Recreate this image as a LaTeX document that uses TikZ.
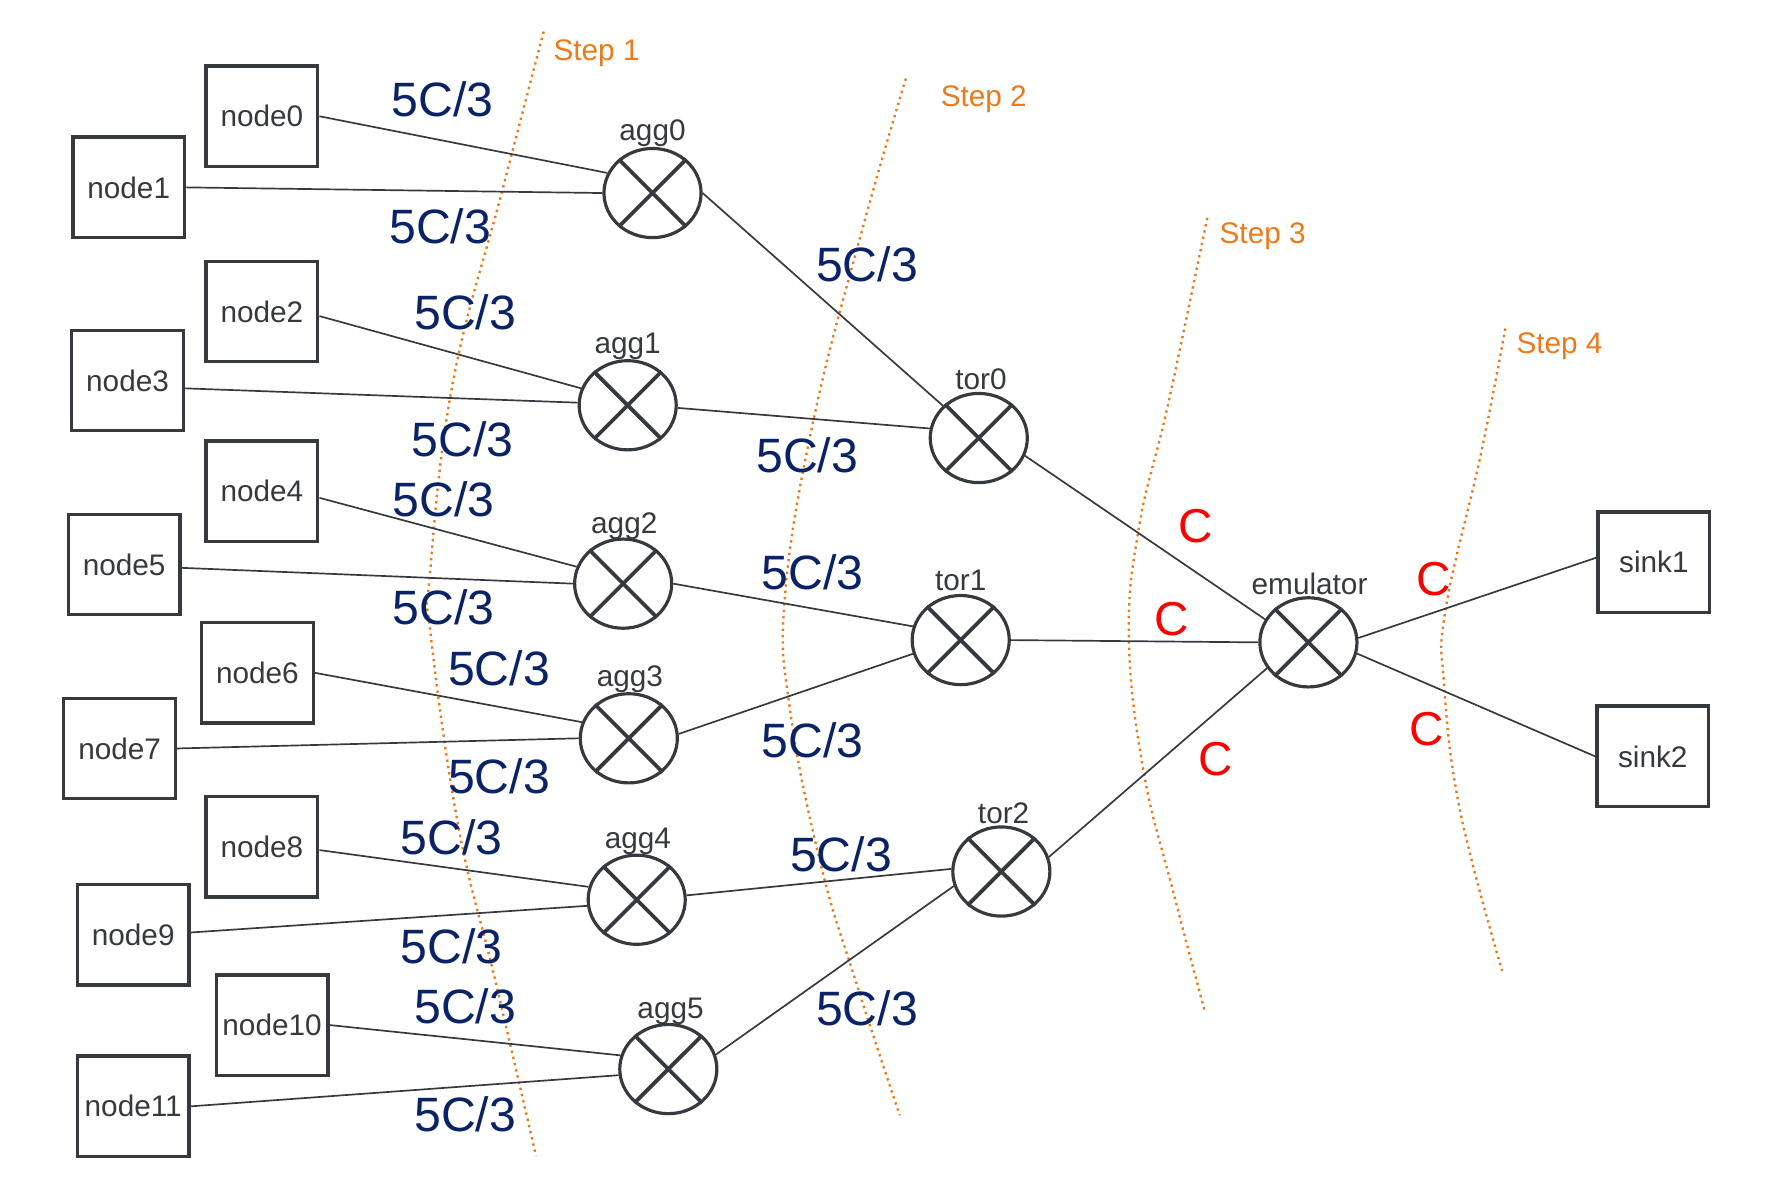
\documentclass[tikz,border=0pt]{standalone}
\usepackage{fontspec}
\setmainfont{Liberation Sans}
\usetikzlibrary{shapes.geometric,calc}
\definecolor{strk}{HTML}{36393D}
\definecolor{navy}{HTML}{0A2266}
\definecolor{stepor}{HTML}{EC7A1A}
\definecolor{redc}{HTML}{FF0000}
\begin{document}
\begin{tikzpicture}[x=0.02cm,y=-0.02cm,
  hostbox/.style={draw=strk, line width=1.7pt, minimum width=1.98cm, minimum height=1.78cm,
    font=\fontsize{15}{18}\selectfont, text=strk, inner sep=0pt},
  sw/.style={draw=strk, ellipse, line width=1.6pt, minimum width=1.72cm, minimum height=1.58cm, inner sep=0pt},
  swlabel/.style={font=\fontsize{15}{18}\selectfont, text=strk, inner sep=0pt},
  crossline/.style={draw=strk, line width=1.9pt},
  link/.style={draw=strk, line width=0.85pt},
  rate/.style={font=\fontsize{24.3}{28}\selectfont, text=navy, inner sep=0pt},
  capl/.style={font=\fontsize{24}{28}\selectfont, text=redc, inner sep=0pt},
  steplbl/.style={font=\fontsize{15}{18}\selectfont, text=stepor, anchor=west, inner sep=0pt},
  stepline/.style={draw=stepor, line width=1.2pt, dotted}]
\useasboundingbox (0,0) rectangle (1567,1060);

% step separators
\draw[stepline] plot[smooth, tension=0.7] coordinates {(481.6,28) (444.6,170) (401,339.5) (380.8,509) (381.5,562) (406,732) (438.6,868) (474.8,1024)};
\draw[stepline] plot[smooth, tension=0.7] coordinates {(802.4,69.6) (763.7,203.7) (720.3,373.4) (695.2,529.5) (700,630) (727,765.6) (757.5,867.6) (797,988)};
\draw[stepline] plot[smooth, tension=0.7] coordinates {(1069.4,193) (1034.7,358) (1009,466.5) (1000,566) (1013,683.4) (1038.6,787.5) (1067,895)};
\draw[stepline] plot[smooth, tension=0.7] coordinates {(1333.4,291) (1311.6,403) (1280.7,538.7) (1279.2,606.6) (1293.6,719.4) (1330.6,860)};
\node[steplbl] (s1) at (490,47) {Step 1};
\node[steplbl] (s2) at (833,88) {Step 2};
\node[steplbl] (s3) at (1080,209) {Step 3};
\node[steplbl] (s4) at (1343,307) {Step 4};

% hosts
\node[hostbox] (n0) at (232,103) {node0};
\node[hostbox] (n1) at (114,166) {node1};
\node[hostbox] (n2) at (232,276) {node2};
\node[hostbox] (n3) at (113,337) {node3};
\node[hostbox] (n4) at (232,435) {node4};
\node[hostbox] (n5) at (110,500) {node5};
\node[hostbox] (n6) at (228,596) {node6};
\node[hostbox] (n7) at (106,663) {node7};
\node[hostbox] (n8) at (232,750) {node8};
\node[hostbox] (n9) at (118,828) {node9};
\node[hostbox] (n10) at (241,908) {node10};
\node[hostbox] (n11) at (118,980) {node11};
\node[hostbox] (sink1) at (1465,498) {sink1};
\node[hostbox] (sink2) at (1464,670) {sink2};

% switches
\node[sw] (agg0) at (578,171) {};
\node[sw] (agg1) at (556,359) {};
\node[sw] (agg2) at (552,517) {};
\node[sw] (agg3) at (557,654) {};
\node[sw] (agg4) at (564,797) {};
\node[sw] (agg5) at (592,947) {};
\node[sw] (tor0) at (867,388) {};
\node[sw] (tor1) at (851,567) {};
\node[sw] (tor2) at (887,772) {};
\node[sw] (emu) at (1159,569) {};
\foreach \s in {agg0,agg1,agg2,agg3,agg4,agg5,tor0,tor1,tor2,emu}{
  \draw[crossline] (\s.135) -- (\s.-45) (\s.45) -- (\s.-135);
}
\node[swlabel] (lagg0) at (578,118) {agg0};
\node[swlabel] (lagg1) at (556,307) {agg1};
\node[swlabel] (lagg2) at (553,466) {agg2};
\node[swlabel] (lagg3) at (558,602) {agg3};
\node[swlabel] (lagg4) at (565,745) {agg4};
\node[swlabel] (lagg5) at (594,896) {agg5};
\node[swlabel] (ltor0) at (869,336) {tor0};
\node[swlabel] (ltor1) at (851,514) {tor1};
\node[swlabel] (ltor2) at (889,720) {tor2};
\node[swlabel] (lemu) at (1160,517) {emulator};

% links
\draw[link] (n0.east) -- (agg0.156);
\draw[link] (n1.east) -- (agg0.180);
\draw[link] ($(n2.east)+(0,4)$) -- (agg1.160);
\draw[link] ($(n3.east)+(0,7)$) -- (agg1.177);
\draw[link] ($(n4.east)+(0,6)$) -- (agg2.160);
\draw[link] ($(n5.east)+(0,3)$) -- (agg2.180);
\draw[link] (n6.east) -- (agg3.161);
\draw[link] (n7.east) -- (agg3.180);
\draw[link] ($(n8.east)+(0,3)$) -- (agg4.165);
\draw[link] ($(n9.east)+(0,-2)$) -- (agg4.187);
\draw[link] (n10.east) -- (agg5.164);
\draw[link] (n11.east) -- (agg5.187);
\draw[link] (agg0.0) -- (tor0.138);
\draw[link] (agg1.357) -- (tor0.169);
\draw[link] (agg2.0) -- (tor1.164);
\draw[link] (agg3.5) -- (tor1.196);
\draw[link] (agg4.5) -- (tor2.177);
\draw[link] (agg5.17) -- (tor2.197);
\draw[link] (tor0.-21) -- (emu.152);
\draw[link] (tor1.0) -- (emu.180);
\draw[link] (tor2.17) -- (emu.212);
\draw[link] (emu.5) -- ($(sink1.west)+(0,-4)$);
\draw[link] (emu.-13) -- (sink2.west);

% rate labels
\node[rate] (r1) at (392,88) {5C/3};
\node[rate] (r2) at (390,200) {5C/3};
\node[rate] (r3) at (412,277) {5C/3};
\node[rate] (r4) at (410,389) {5C/3};
\node[rate] (r5) at (393,442) {5C/3};
\node[rate] (r6) at (393,538) {5C/3};
\node[rate] (r7) at (442,592) {5C/3};
\node[rate] (r8) at (442,688) {5C/3};
\node[rate] (r9) at (400,742) {5C/3};
\node[rate] (r10) at (400,838) {5C/3};
\node[rate] (r11) at (412,891) {5C/3};
\node[rate] (r12) at (412,987) {5C/3};
\node[rate] (r13) at (768,234) {5C/3};
\node[rate] (r14) at (715,403) {5C/3};
\node[rate] (r15) at (720,507) {5C/3};
\node[rate] (r16) at (720,656) {5C/3};
\node[rate] (r17) at (745,757) {5C/3};
\node[rate] (r18) at (768,893) {5C/3};

% capacity labels
\node[capl] (c1) at (1059,466) {C};
\node[capl] (c2) at (1038,548) {C};
\node[capl] (c3) at (1077,672) {C};
\node[capl] (c4) at (1270,513) {C};
\node[capl] (c5) at (1264,646) {C};
\end{tikzpicture}
\end{document}
